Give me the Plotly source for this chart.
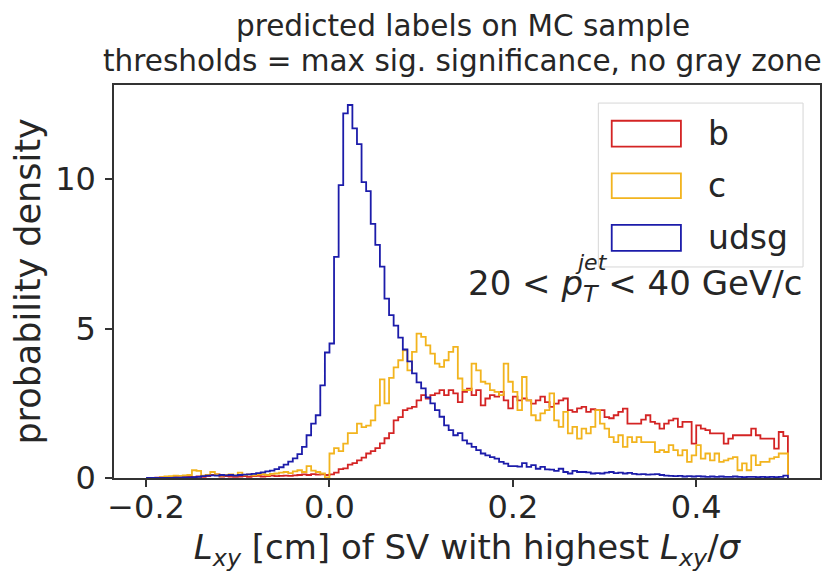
import numpy as np
import plotly.graph_objects as go

# histogram binning (density per bin of width 0.005 cm)
BIN_LO = -0.2
BIN_WIDTH = 0.005

b_density = [
    0, 0, 0.01, 0.02, 0.01, 0.02, 0.03, 0.02, 0.03, 0.04,
    0.03, 0.05, 0.04, 0.06, 0.1, 0.12, 0.05, 0.06, 0.05, 0.04,
    0.05, 0.06, 0.04, 0.06, 0.07, 0.05, 0.06, 0.08, 0.06, 0.07,
    0.08, 0.07, 0.09, 0.1, 0.12, 0.1, 0.13, 0.11, 0.12, 0.1,
    0.12, 0.18, 0.3, 0.32, 0.45, 0.5, 0.59, 0.68, 0.82, 0.9,
    1.0, 1.16, 1.33, 1.5, 1.93, 2.04, 2.27, 2.33, 2.38, 2.6,
    2.77, 2.66, 2.77, 2.83, 2.94, 2.77, 2.94, 2.83, 2.54, 2.88,
    2.99, 2.77, 2.94, 2.43, 2.66, 2.77, 2.72, 2.88, 2.6, 2.33,
    2.72, 2.6, 2.66, 2.6, 2.49, 2.6, 2.72, 2.54, 2.38, 2.49,
    2.6, 2.66, 2.27, 2.21, 2.33, 2.38, 2.21, 2.3, 2.27, 2.27,
    2.04, 2.0, 2.1, 2.21, 2.32, 1.82, 1.82, 1.82, 1.95, 2.1,
    1.88, 1.82, 1.65, 1.82, 1.93, 1.99, 1.71, 1.88, 1.88, 1.15,
    1.76, 1.65, 1.6, 1.49, 1.49, 1.49, 1.15, 1.32, 1.43, 1.43,
    1.43, 1.43, 1.65, 1.43, 1.32, 1.32, 1.32, 0.98, 1.54, 1.4,
]

c_density = [
    0, 0, 0, 0.03, 0.05, 0.06, 0.08, 0.07, 0.09, 0.1,
    0.26, 0.24, 0.08, 0.1, 0.2, 0.12, 0.08, 0.1, 0.12, 0.09,
    0.18, 0.1, 0.12, 0.09, 0.11, 0.13, 0.1, 0.14, 0.15, 0.18,
    0.2, 0.16, 0.22, 0.26, 0.2, 0.4, 0.25, 0.2, 0.15, 0.02,
    0.82, 1.0, 0.9, 1.15, 1.5, 1.5, 1.82, 1.7, 1.75, 1.93,
    2.43, 3.3, 2.5, 3.35, 3.7, 3.94, 4.27, 3.6, 4.22, 4.83,
    4.72, 4.44, 4.16, 3.83, 3.72, 3.94, 4.22, 4.39, 3.33, 2.94,
    2.94, 3.83, 3.6, 3.22, 3.16, 2.94, 2.88, 2.77, 3.83, 3.22,
    2.88, 2.27, 3.38, 2.6, 2.1, 1.93, 2.16, 2.27, 2.83, 1.93,
    1.71, 2.21, 1.49, 1.71, 1.32, 1.65, 1.49, 1.71, 2.27, 1.82,
    1.65, 1.37, 1.2, 1.43, 1.04, 1.37, 1.2, 1.37, 1.2, 1.2,
    1.2, 0.87, 0.93, 0.87, 1.1, 0.93, 0.76, 0.93, 0.54, 0.76,
    1.1, 0.65, 0.82, 0.59, 0.82, 0.54, 0.59, 0.65, 0.7, 0.26,
    0.49, 0.26, 0.76, 0.43, 0.54, 0.54, 0.65, 0.7, 0.82, 0.82,
]

udsg_density = [
    0, 0, 0, 0, 0, 0, 0.01, 0.01, 0.02, 0.02,
    0.03, 0.04, 0.06, 0.08, 0.09, 0.08, 0.1, 0.09, 0.1, 0.08,
    0.1, 0.11, 0.12, 0.14, 0.16, 0.19, 0.22, 0.25, 0.3, 0.36,
    0.45, 0.55, 0.66, 0.8, 1.04, 1.43, 1.82, 2.1, 3.1, 4.2,
    4.5, 7.4, 9.8, 12.2, 12.48, 11.7, 11.17, 9.9, 9.6, 8.5,
    7.8, 7.07, 6.0, 5.45, 5.1, 4.7, 4.3, 3.9, 3.5, 3.2,
    3.0, 2.7, 2.5, 2.27, 2.05, 1.76, 1.6, 1.43, 1.5, 1.26,
    1.15, 1.04, 0.93, 0.82, 0.76, 0.7, 0.65, 0.54, 0.48, 0.4,
    0.4, 0.38, 0.5, 0.37, 0.43, 0.31, 0.37, 0.29, 0.28, 0.24,
    0.31, 0.2, 0.15, 0.24, 0.2, 0.2, 0.19, 0.15, 0.16, 0.15,
    0.18, 0.2, 0.16, 0.18, 0.15, 0.17, 0.14, 0.12, 0.13, 0.11,
    0.12, 0.13, 0.1, 0.08, 0.07, 0.06, 0.07, 0.05, 0.06, 0.05,
    0.06, 0.05, 0.04, 0.05, 0.04, 0.05, 0.04, 0.04, 0.05, 0.04,
    0.03, 0.04, 0.04, 0.03, 0.04, 0.03, 0.04, 0.03, 0.04, 0.08,
]

labels = ["b", "c", "udsg"]
colors = ["#d42424", "#f2b41e", "#1c1caa"]
series = [b_density, c_density, udsg_density]

FONT = "DejaVu Sans"
TXT = "#262626"


def step_outline(values):
    """x/y of a matplotlib-style 'step' histogram outline (closed to zero)."""
    n = len(values)
    edges = BIN_LO + BIN_WIDTH * np.arange(n + 1)
    x = np.concatenate([[edges[0]], edges])
    y = np.concatenate([[0], values, [0]])
    return x, y


fig = go.Figure()
for name, col, vals in zip(labels, colors, series):
    x, y = step_outline(vals)
    fig.add_trace(
        go.Scatter(
            x=x, y=y, mode="lines", name=name,
            line=dict(color=col, width=1.8, shape="hv"),
            showlegend=False,
        )
    )

# pT range label (superscript placed separately above the subscript)
fig.add_annotation(xref="paper", yref="paper", x=0.978, y=0.49,
                   text="20 < <i>p</i><sub><i>T</i></sub> < 40 GeV/c",
                   showarrow=False, xanchor="right", yanchor="middle",
                   font=dict(family=FONT, size=34, color=TXT))
fig.add_annotation(xref="paper", yref="paper", x=0.676, y=0.548,
                   text="<i>jet</i>", showarrow=False, xanchor="center", yanchor="middle",
                   font=dict(family=FONT, size=22, color=TXT))

# legend drawn like matplotlib (unfilled patches in a light box, above the text)
fig.add_shape(type="rect", xref="paper", yref="paper", layer="above",
              x0=0.686, x1=0.976, y0=0.537, y1=0.954,
              line=dict(color="#d6d6d6", width=1), fillcolor="rgba(255,255,255,0.8)")
patch_y = [(0.843, 0.909), (0.712, 0.775), (0.578, 0.644)]
for (y0, y1), name, col in zip(patch_y, labels, colors):
    fig.add_shape(type="rect", xref="paper", yref="paper", layer="above",
                  x0=0.705, x1=0.803, y0=y0, y1=y1,
                  line=dict(color=col, width=1.8), fillcolor="rgba(0,0,0,0)")
    fig.add_annotation(xref="paper", yref="paper", x=0.838, y=(y0 + y1) / 2,
                       text=name, showarrow=False, xanchor="left", yanchor="middle",
                       font=dict(family=FONT, size=33, color=TXT))

# two-line title
for line, yy in [("predicted labels on MC sample", 1.15),
                 ("thresholds = max sig. significance, no gray zone", 1.06)]:
    fig.add_annotation(xref="paper", yref="paper", x=0.494, y=yy, text=line,
                       showarrow=False, xanchor="center", yanchor="middle",
                       font=dict(family=FONT, size=29.5, color=TXT))

axis_common = dict(
    showline=True, mirror=True, linecolor="#333333", linewidth=1.5,
    ticks="outside", ticklen=7, tickwidth=1.5, tickcolor="#333333",
    showgrid=False, zeroline=False,
    tickfont=dict(family=FONT, size=32, color=TXT),
)

fig.update_layout(
    width=826, height=569,
    paper_bgcolor="white", plot_bgcolor="white",
    margin=dict(l=106, r=14, t=77, b=99),
    xaxis=dict(
        range=[-0.235, 0.535],
        tickvals=[-0.2, 0.0, 0.2, 0.4],
        ticktext=["\u22120.2", "0.0", "0.2", "0.4"],
        ticklabelstandoff=-7,
        title=dict(
            text="<i>L</i><sub><i>xy</i></sub> [cm] of SV with highest <i>L</i><sub><i>xy</i></sub>/<i>\u03c3</i>",
            font=dict(family=FONT, size=34, color=TXT), standoff=10,
        ),
        **axis_common,
    ),
    yaxis=dict(
        range=[0, 13.15],
        tickvals=[0, 5, 10],
        ticklabelstandoff=3,
        title=dict(text="probability density",
                   font=dict(family=FONT, size=35, color=TXT), standoff=4),
        **axis_common,
    ),
)

fig.write_html("out.html")
